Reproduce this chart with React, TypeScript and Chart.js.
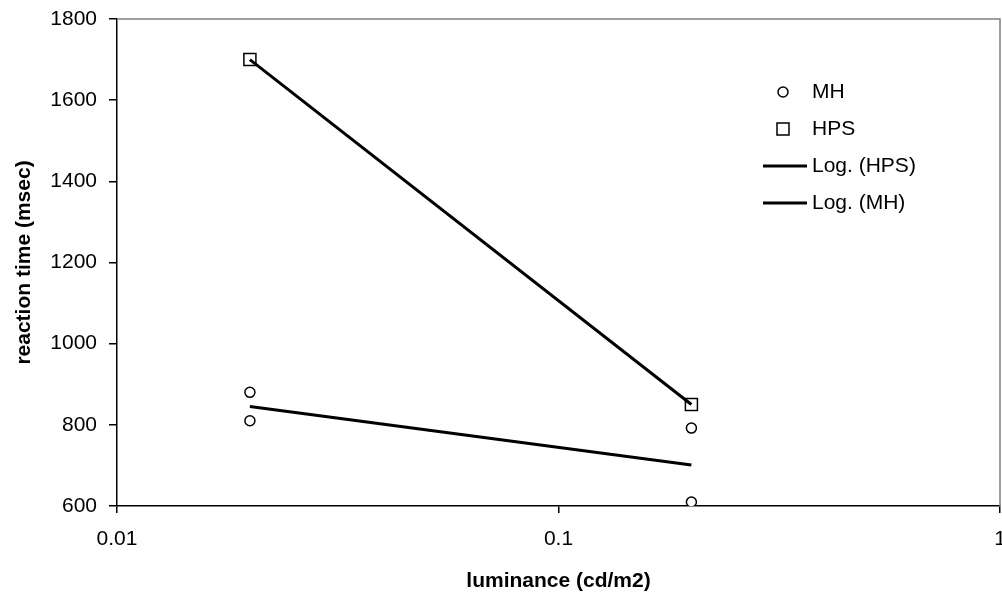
import React, { useEffect, useRef } from "react";
import { Chart, registerables } from "chart.js";

Chart.register(...registerables);

// Measured reaction times per lamp type
const luminanceMH = [0.02, 0.02, 0.2, 0.2];
const reactionMH = [880, 810, 792, 610];
const luminanceHPS = [0.02, 0.2];
const reactionHPS = [1700, 850];

// Logarithmic trend lines (fitted at the two luminance levels)
const trendLuminance = [0.02, 0.2];
const trendHPS = [1700, 850];
const trendMH = [845, 701];

const xTickValues = [0.01, 0.1, 1];
const xTickLabels = ["0.01", "0.1", "1"];
const seriesLabels = ["MH", "HPS", "Log. (HPS)", "Log. (MH)"];

const FONT = "'Liberation Sans', Arial, Helvetica, sans-serif";

const zip = (xs: number[], ys: number[]) => xs.map((x, i) => ({ x, y: ys[i] }));

// Gray top/right frame of the plot area
const framePlugin = {
  id: "plotFrame",
  beforeDatasetsDraw(chart: any) {
    const { ctx, chartArea } = chart;
    ctx.save();
    ctx.strokeStyle = "#808080";
    ctx.lineWidth = 1.5;
    ctx.beginPath();
    ctx.moveTo(chartArea.left, chartArea.top);
    ctx.lineTo(chartArea.right, chartArea.top);
    ctx.lineTo(chartArea.right, chartArea.bottom);
    ctx.stroke();
    ctx.restore();
  },
};

// Legend drawn inside the plot area
const insideLegendPlugin = {
  id: "insideLegend",
  afterDraw(chart: any) {
    const { ctx } = chart;
    const markerX = 783;
    const textX = 812;
    const firstRowY = 92;
    const rowGap = 37;
    ctx.save();
    ctx.font = `21px ${FONT}`;
    ctx.textBaseline = "middle";
    ctx.textAlign = "left";
    chart.data.datasets.forEach((ds: any, i: number) => {
      const y = firstRowY + i * rowGap;
      ctx.strokeStyle = "#000";
      ctx.fillStyle = "#fff";
      if (ds.showLine) {
        ctx.lineWidth = 3;
        ctx.beginPath();
        ctx.moveTo(763, y);
        ctx.lineTo(807, y);
        ctx.stroke();
      } else if (ds.pointStyle === "rect") {
        ctx.lineWidth = 1.5;
        ctx.fillRect(markerX - 6, y - 6, 12, 12);
        ctx.strokeRect(markerX - 6, y - 6, 12, 12);
      } else {
        ctx.lineWidth = 1.5;
        ctx.beginPath();
        ctx.arc(markerX, y, 5, 0, Math.PI * 2);
        ctx.fill();
        ctx.stroke();
      }
      ctx.fillStyle = "#000";
      ctx.fillText(ds.label, textX, y);
    });
    ctx.restore();
  },
};

export default function App() {
  const canvasRef = useRef<HTMLCanvasElement | null>(null);

  useEffect(() => {
    if (!canvasRef.current) return;
    const chart = new Chart(canvasRef.current, {
      type: "scatter",
      data: {
        datasets: [
          {
            label: seriesLabels[0],
            data: zip(luminanceMH, reactionMH),
            showLine: false,
            pointStyle: "circle",
            pointRadius: 5,
            pointBorderWidth: 1.5,
            pointBorderColor: "#000",
            pointBackgroundColor: "#fff",
            order: 1,
          },
          {
            label: seriesLabels[1],
            data: zip(luminanceHPS, reactionHPS),
            showLine: false,
            pointStyle: "rect",
            pointRadius: 8.5,
            pointBorderWidth: 1.5,
            pointBorderColor: "#000",
            pointBackgroundColor: "#fff",
            order: 1,
          },
          {
            label: seriesLabels[2],
            data: zip(trendLuminance, trendHPS),
            showLine: true,
            borderColor: "#000",
            borderWidth: 3,
            pointRadius: 0,
            order: 0,
          },
          {
            label: seriesLabels[3],
            data: zip(trendLuminance, trendMH),
            showLine: true,
            borderColor: "#000",
            borderWidth: 3,
            pointRadius: 0,
            order: 0,
          },
        ] as any,
      },
      options: {
        responsive: false,
        animation: false,
        devicePixelRatio: 1,
        layout: { autoPadding: false, padding: { top: 19, right: 2, left: 0, bottom: 0 } },
        plugins: {
          legend: { display: false },
          tooltip: { enabled: false },
        },
        scales: {
          x: {
            type: "logarithmic",
            min: 0.01,
            max: 1,
            afterBuildTicks: (scale: any) => {
              scale.ticks = xTickValues.map((v) => ({ value: v }));
            },
            afterFit: (scale: any) => {
              scale.height = 92;
              scale.paddingLeft = 0;
              scale.paddingRight = 0;
            },
            ticks: {
              autoSkip: false,
              maxRotation: 0,
              color: "#000",
              padding: 14,
              font: { family: FONT, size: 21 },
              callback: (_v: any, i: number) => xTickLabels[i],
            },
            grid: { drawOnChartArea: false, drawTicks: true, tickLength: 7, color: "#000", lineWidth: 1.5 },
            border: { color: "#000", width: 1.5 },
            title: {
              display: true,
              text: "luminance (cd/m2)",
              color: "#000",
              font: { family: FONT, size: 21, weight: "bold" },
              padding: { top: 0, bottom: 4 },
            },
          },
          y: {
            type: "linear",
            min: 600,
            max: 1800,
            afterFit: (scale: any) => {
              scale.width = 117;
              scale.paddingTop = 0;
              scale.paddingBottom = 0;
            },
            ticks: {
              stepSize: 200,
              color: "#000",
              padding: 12,
              font: { family: FONT, size: 21 },
              callback: (v: any) => String(v),
            },
            grid: { drawOnChartArea: false, drawTicks: true, tickLength: 8, color: "#000", lineWidth: 1.5 },
            border: { color: "#000", width: 1.5 },
            title: {
              display: true,
              text: "reaction time (msec)",
              color: "#000",
              font: { family: FONT, size: 21, weight: "bold" },
              padding: { top: 12, bottom: 0 },
            },
          },
        },
      } as any,
      plugins: [framePlugin, insideLegendPlugin],
    });
    return () => chart.destroy();
  }, []);

  return (
    <div style={{ position: "absolute", left: 0, top: 0, width: 1002, height: 598, background: "#fff" }}>
      <canvas ref={canvasRef} width={1002} height={598} />
    </div>
  );
}
